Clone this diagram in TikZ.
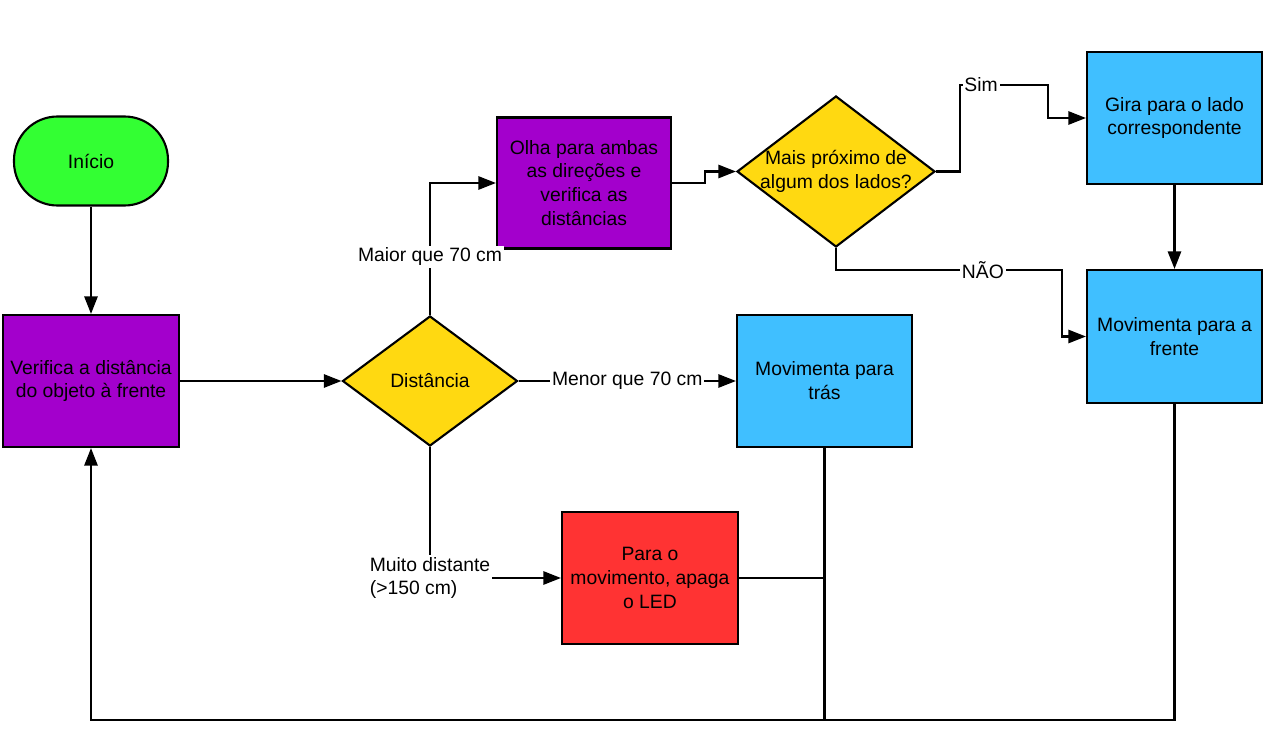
\documentclass[tikz,border=0pt]{standalone}
\usepackage{fontspec}
\setmainfont{Liberation Sans}
\usepackage{tikz}
\usetikzlibrary{arrows.meta,positioning,shapes.geometric}

\definecolor{startgreen}{RGB}{51,255,51}
\definecolor{procpurple}{RGB}{163,0,204}
\definecolor{decyellow}{RGB}{255,217,17}
\definecolor{moveblue}{RGB}{64,191,255}
\definecolor{stopred}{RGB}{255,51,51}

\begin{document}
\begin{tikzpicture}[
  box/.style={draw, line width=1.2pt, minimum width=3.5cm, minimum height=2.64cm,
    align=center, font=\fontsize{11pt}{13.6pt}\selectfont},
  start/.style={box, fill=startgreen, rounded corners=0.87cm, minimum width=3.08cm,
    minimum height=1.78cm},
  proc/.style={box, fill=procpurple},
  move/.style={box, fill=moveblue},
  stop/.style={box, fill=stopred},
  dec/.style={draw, line width=1.2pt, diamond, fill=decyellow, inner sep=0pt,
    font=\fontsize{11pt}{13.6pt}\selectfont},
  lbl/.style={fill=white, inner sep=1pt, align=left, font=\fontsize{11pt}{13.6pt}\selectfont},
  arr/.style={-{Triangle[length=10pt, width=7.5pt]}, line width=1.3pt},
  ln/.style={line width=1.3pt}
]
  \useasboundingbox (0,0) rectangle (25.6,15);

  \node[start] (inicio) at (1.82,11.78) {Início};
  \node[proc, minimum width=3.52cm] (verif) at (1.82,7.38) {Verifica a distância\\do objeto à frente};
  \node[dec, minimum width=3.5cm, minimum height=2.6cm,
    label={[align=center, font=\fontsize{11pt}{13.6pt}\selectfont]center:Distância}] (dist) at (8.6,7.38) {};
  \node[proc, minimum width=3.48cm, minimum height=2.62cm] (olha) at (11.68,11.34)
    {Olha para ambas\\as direções e\\verifica as\\distâncias};
  \node[dec, minimum width=3.96cm, minimum height=3.02cm,
    label={[align=center, font=\fontsize{11pt}{13.6pt}\selectfont]center:Mais próximo de\\algum dos lados?}] (mais) at (16.72,11.57) {};
  \node[move] (gira) at (23.49,12.64) {Gira para o lado\\correspondente};
  \node[move, minimum height=2.66cm] (movf) at (23.49,8.27) {Movimenta para a\\frente};
  \node[move] (tras) at (16.49,7.38) {Movimenta para\\trás};
  \node[stop, minimum width=3.52cm] (para) at (13.0,3.44) {Para o\\movimento, apaga\\o LED};
  \coordinate (volta) at (1.82,0.6);

  \draw[arr] (inicio) -- (verif);
  \draw[arr] (verif) -- (dist);
  \draw[arr] (dist.north) |- node[lbl, pos=0.22, align=center] {Maior que 70 cm} (olha.west);
  \draw[arr] (dist.east) -- node[lbl, pos=0.5] {Menor que 70 cm} (tras.west);
  \draw[arr] (dist.south) |- node[lbl, pos=0.5] {Muito distante\\(>150 cm)} (para.west);
  \draw[arr] (olha.east) -- ++(0.66,0) |- (mais.west);
  \draw[arr] (mais.east) -| (19.2,13.3) -- node[lbl, pos=0.24] {Sim} (20.96,13.3) |- (gira.west);
  \draw[arr] (gira) -- (movf);
  \draw[arr] (mais.south) -- (16.72,9.6) -- node[lbl, pos=0.65] {NÃO} (21.24,9.6) |- (movf.west);
  \draw[arr] (movf.south) |- (volta) -- (verif.south);
  \draw[ln] (tras.south) -- (tras.south |- volta);
  \draw[ln] (para.east) -- (para.east -| tras.south);
\end{tikzpicture}
\end{document}
